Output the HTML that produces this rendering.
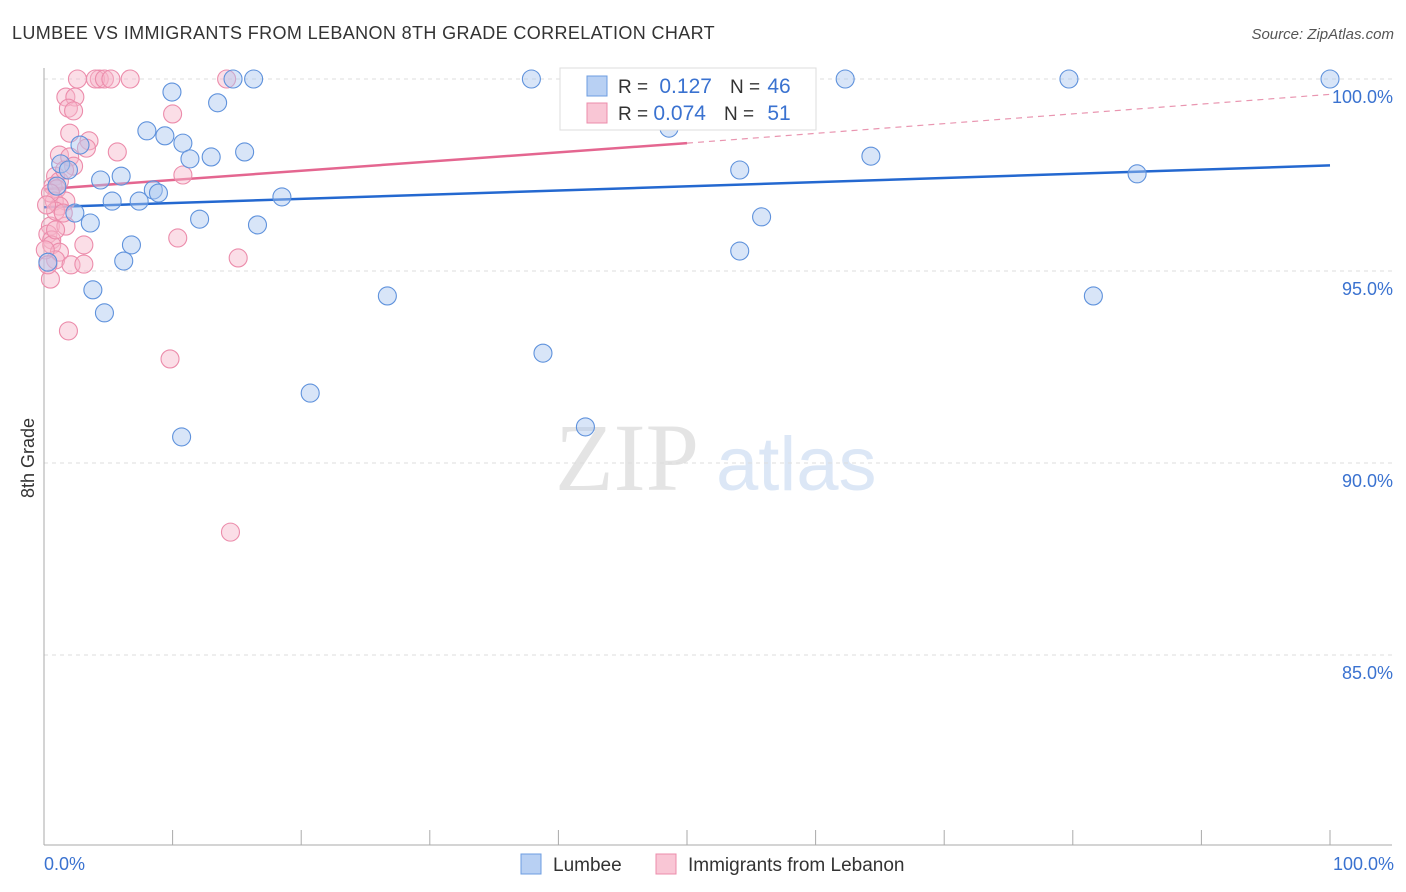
<!DOCTYPE html>
<html><head><meta charset="utf-8"><style>
body{margin:0;background:#fff;}
svg{display:block;font-family:"Liberation Sans",sans-serif;}
</style></head><body>
<svg id="chart" width="1406" height="892" viewBox="0 0 1406 892">
<text x="12" y="39" font-size="18" fill="#333" letter-spacing="0.37">LUMBEE VS IMMIGRANTS FROM LEBANON 8TH GRADE CORRELATION CHART</text>
<text x="1394" y="39" font-size="15" fill="#555" font-style="italic" text-anchor="end">Source: ZipAtlas.com</text>
<text x="34" y="458" font-size="18" fill="#333" text-anchor="middle" transform="rotate(-90 34 458)">8th Grade</text>
<g>
<text x="555" y="490" font-size="96" fill="#e4e4e4" font-family="Liberation Serif,serif">ZIP</text>
<text x="716" y="490" font-size="76" fill="#dce7f6">atlas</text>
</g>
<g id="grid"></g><g id="axes"></g><g id="trends"></g><g id="points"></g>
<g>
<rect x="560" y="68" width="256" height="62" fill="#fff" stroke="#ddd"/>
<rect x="587" y="76" width="20" height="20" fill="#b8d0f3" stroke="#6d9de0"/>
<rect x="587" y="103" width="20" height="20" fill="#f9c6d5" stroke="#ec8cab"/>
<text x="618" y="93" font-size="19" fill="#333">R = <tspan fill="#3a72d0" font-size="21" dx="6">0.127</tspan><tspan fill="#333" dx="18">N = </tspan><tspan fill="#3a72d0" font-size="21" dx="2">46</tspan></text>
<text x="618" y="120" font-size="19" fill="#333">R = <tspan fill="#3a72d0" font-size="21">0.074</tspan><tspan fill="#333" dx="18">N = </tspan><tspan fill="#3a72d0" font-size="21" dx="8">51</tspan></text>
</g>
<g>
<rect x="521" y="854" width="20" height="20" fill="#b8d0f3" stroke="#6d9de0"/>
<text x="553" y="871" font-size="19" fill="#333">Lumbee</text>
<rect x="656" y="854" width="20" height="20" fill="#f9c6d5" stroke="#ec8cab"/>
<text x="688" y="871" font-size="19" fill="#333">Immigrants from Lebanon</text>
</g>
</svg>
<script>
const yTicks=[100,95,90,85];
const yTickLabels=["100.0%","95.0%","90.0%","85.0%"];
const xTickCount=10;
const xLabels=["0.0%","100.0%"];
const blueX=[9.95,8.0,9.4,10.8,11.35,13.0,13.5,15.6,14.7,16.3,2.8,1.3,1.9,4.4,6.0,5.3,7.4,8.5,8.9,18.5,12.1,2.4,3.6,16.6,6.8,6.2,0.3,3.8,4.7,20.7,10.7,26.7,38.8,42.1,37.9,48.6,54.1,55.8,54.1,62.3,64.3,79.7,81.6,85.0,100.0,1.0];
const blueY=[99.66,98.65,98.52,98.33,97.92,97.97,99.38,98.10,100,100,98.28,97.79,97.63,97.37,97.47,96.82,96.82,97.11,97.03,96.93,96.35,96.51,96.25,96.20,95.68,95.26,95.23,94.51,93.91,91.82,90.68,94.35,92.86,90.94,100,98.72,97.63,96.41,95.52,100,97.99,100,94.35,97.53,100,97.21];
const pinkX=[2.6,4.3,4.0,4.7,5.2,6.7,14.2,1.7,2.4,1.9,2.3,2.0,3.5,3.3,5.7,10.0,1.2,2.0,2.3,0.9,1.2,0.7,1.0,10.8,0.8,1.7,1.2,0.5,1.7,0.3,0.6,0.6,3.1,10.4,1.2,0.9,2.1,3.1,15.1,0.5,1.9,9.8,14.5,0.5,0.9,0.1,0.3,1.5,0.9,0.2,1.6];
const pinkY=[100,100,100,100,100,100,100,99.53,99.53,99.24,99.17,98.59,98.39,98.20,98.10,99.09,98.02,97.97,97.73,97.47,97.34,97.21,97.14,97.50,96.82,96.82,96.69,96.17,96.17,95.96,95.81,95.68,95.68,95.86,95.49,95.29,95.16,95.18,95.34,94.79,93.44,92.71,88.20,97.03,96.56,95.55,95.16,96.51,96.07,96.72,97.63];
const blueTrend=[96.66,97.75];
const pinkTrend=[97.13,98.33,99.6];
const NS="http://www.w3.org/2000/svg";
const X0=44,X1=1330,Y100=79,PX=38.4;
const sx=v=>X0+(X1-X0)*v/100;
const sy=v=>Y100+(100-v)*PX;
function mk(tag,attrs,parent){const e=document.createElementNS(NS,tag);for(const k in attrs)e.setAttribute(k,attrs[k]);parent.appendChild(e);return e;}
const grid=document.getElementById('grid'),axes=document.getElementById('axes'),tr=document.getElementById('trends'),pts=document.getElementById('points');
yTicks.forEach((t,i)=>{
 const l=mk('line',{x1:44,x2:1392,y1:sy(t),y2:sy(t),stroke:'#ddd','stroke-dasharray':'4,4'},grid);
 
 
 const tx=mk('text',{x:1393,y:sy(t)+24,'font-size':18,fill:'#3a72d0','text-anchor':'end'},grid);
 tx.textContent=yTickLabels[i];
 
 
});
const ya=mk('line',{x1:44,x2:44,y1:68,y2:845,stroke:'#aaa'},axes);


const xa=mk('line',{x1:44,x2:1392,y1:845,y2:845,stroke:'#aaa'},axes);


for(let i=0;i<=xTickCount;i++){
 const x=sx(i*100/xTickCount);
 const t=mk('line',{x1:x,x2:x,y1:830,y2:845,stroke:'#aaa'},axes);
 
 
}
const xl0=mk('text',{x:44,y:870,'font-size':18,fill:'#3a72d0'},axes);xl0.textContent=xLabels[0];


const xl1=mk('text',{x:1394,y:870,'font-size':18,fill:'#3a72d0','text-anchor':'end'},axes);xl1.textContent=xLabels[1];


function dots(xs,ys,fill,stroke,name){xs.forEach((v,i)=>{
 const c=mk('circle',{cx:sx(v),cy:sy(ys[i]),r:9,fill:fill,'fill-opacity':0.45,stroke:stroke,'stroke-width':1.1},pts);
 
 
});}
dots(pinkX,pinkY,'#f7b6ca','#ec8cab','point-lebanon');
dots(blueX,blueY,'#a9c6ef','#5f92dc','point-lumbee');
const bl=mk('line',{x1:sx(0),y1:sy(blueTrend[0]),x2:sx(100),y2:sy(blueTrend[1]),stroke:'#2468d0','stroke-width':2.5},tr);


const pl=mk('line',{x1:sx(0),y1:sy(pinkTrend[0]),x2:sx(50),y2:sy(pinkTrend[1]),stroke:'#e46690','stroke-width':2.5},tr);


const pd=mk('line',{x1:sx(50),y1:sy(pinkTrend[1]),x2:sx(100),y2:sy(pinkTrend[2]),stroke:'#e995b0','stroke-width':1.2,'stroke-dasharray':'6,5'},tr);


</script>
</body></html>
